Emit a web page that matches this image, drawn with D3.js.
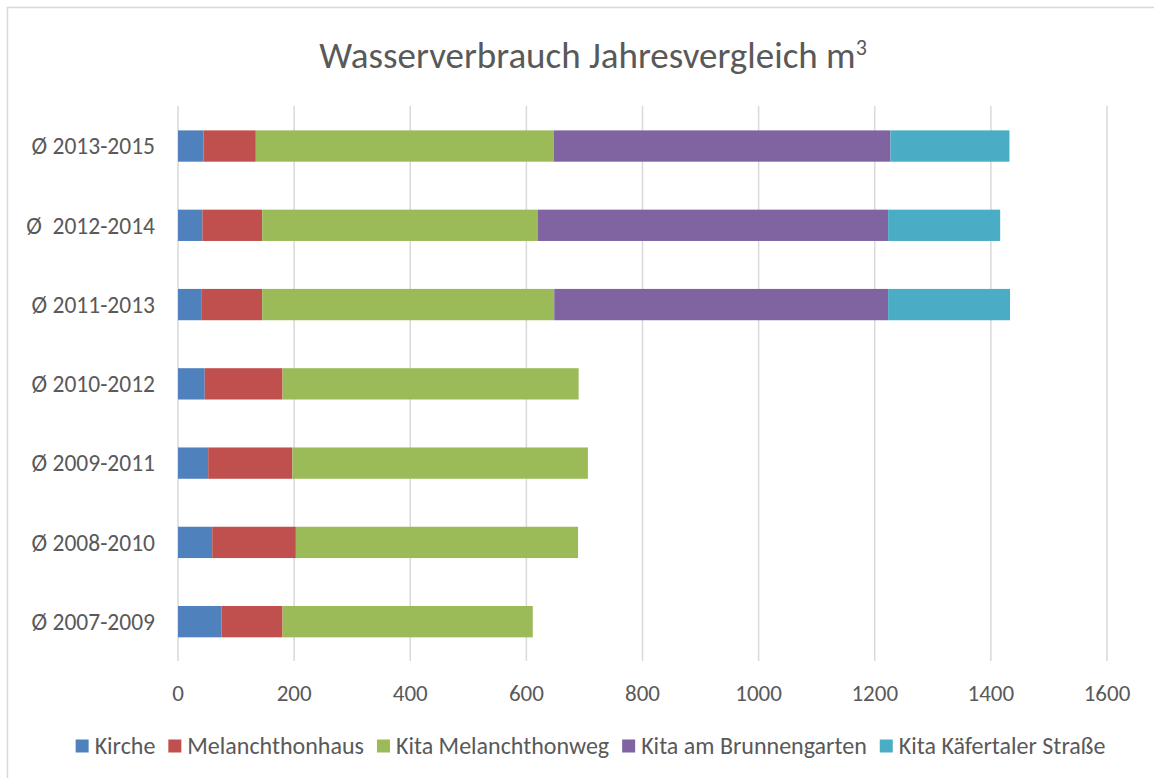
<!DOCTYPE html>
<html>
<head>
	<meta charset="utf-8">
	<title>Wasserverbrauch Jahresvergleich</title>
	<script src="https://d3js.org/d3.v7.min.js"></script>
	<style type="text/css">
		body{ margin:0; background:#fff; }
		text{ font-family: Carlito, "Liberation Sans", Arial, sans-serif; fill:#595959; white-space:pre; }
	</style>
</head>
<body>
<div id="chart"></div>
<script type="text/javascript">
// data (m3)
var categories = ["Ø 2013-2015", "Ø  2012-2014", "Ø 2011-2013", "Ø 2010-2012", "Ø 2009-2011", "Ø 2008-2010", "Ø 2007-2009"];
var kirche          = [44, 42, 40, 46, 52, 59, 75];
var melanchthonhaus = [90, 103, 105, 134, 145, 144, 105];
var kitaWeg         = [513, 475, 503, 510, 509, 486, 431];
var kitaBrunnen     = [580, 603, 575, 0, 0, 0, 0];
var kitaKaefertal   = [205, 193, 210, 0, 0, 0, 0];
var seriesNames = ["Kirche", "Melanchthonhaus", "Kita Melanchthonweg", "Kita am Brunnengarten", "Kita Käfertaler Straße"];
var colors = ["#4f81bd", "#c0504d", "#9bbb59", "#8064a2", "#4bacc6"];
var xTicks = [0, 200, 400, 600, 800, 1000, 1200, 1400, 1600];

var w = 1154, h = 778;
var svg = d3.select('#chart').append('svg')
	.attr('width', w)
	.attr('height', h);

// chart frame
svg.append('rect')
	.attr('x', 7.5).attr('y', 7.5)
	.attr('width', w + 10).attr('height', h + 10)
	.attr('fill', 'none')
	.attr('stroke', '#d9d9d9')
	.attr('stroke-width', 1.5);

// title
var title = svg.append('text')
	.attr('x', 593)
	.attr('y', 68)
	.attr('text-anchor', 'middle')
	.attr('font-size', '37px');
title.append('tspan').text('Wasserverbrauch Jahresvergleich m');
title.append('tspan').attr('dy', -13).attr('font-size', '22px').text('3');

var x = d3.scaleLinear().domain([0, 1600]).range([178, 1107]);
var y = d3.scaleBand().domain(categories).range([106.4, 661.3])
	.paddingInner(0.605).paddingOuter(0.3025);

// gridlines
svg.append('g').selectAll('line')
	.data(xTicks)
	.enter()
	.append('line')
	.attr('x1', function(d){ return x(d); })
	.attr('x2', function(d){ return x(d); })
	.attr('y1', 106)
	.attr('y2', 661)
	.attr('stroke', '#d9d9d9')
	.attr('stroke-width', 1.5);

// stacked bars
var rows = categories.map(function(c, i){
	return {cat: c, v0: kirche[i], v1: melanchthonhaus[i], v2: kitaWeg[i], v3: kitaBrunnen[i], v4: kitaKaefertal[i]};
});
var stack = d3.stack().keys(['v0', 'v1', 'v2', 'v3', 'v4']);
var layers = stack(rows);

svg.append('g').selectAll('g')
	.data(layers)
	.enter()
	.append('g')
	.attr('fill', function(d, i){ return colors[i]; })
	.selectAll('rect')
	.data(function(d){ return d.filter(function(s){ return s[1] > s[0]; }); })
	.enter()
	.append('rect')
	.attr('x', function(d){ return x(d[0]); })
	.attr('y', function(d){ return y(d.data.cat); })
	.attr('width', function(d){ return x(d[1]) - x(d[0]); })
	.attr('height', y.bandwidth());

// category labels
svg.append('g').selectAll('text')
	.data(categories)
	.enter()
	.append('text')
	.attr('x', 155)
	.attr('y', function(d){ return y(d) + y.bandwidth() / 2; })
	.attr('dy', '0.35em')
	.attr('text-anchor', 'end')
	.attr('font-size', '23.5px')
	.text(function(d){ return d; });

// value axis labels
svg.append('g').selectAll('text')
	.data(xTicks)
	.enter()
	.append('text')
	.attr('x', function(d){ return x(d); })
	.attr('y', 701)
	.attr('text-anchor', 'middle')
	.attr('font-size', '23px')
	.text(function(d){ return d; });

// legend
var legend = svg.append('g');
var items = legend.selectAll('g')
	.data(seriesNames)
	.enter()
	.append('g');
items.append('rect')
	.attr('width', 13).attr('height', 13)
	.attr('y', 739.5)
	.attr('fill', function(d, i){ return colors[i]; });
items.append('text')
	.attr('x', 19)
	.attr('y', 754)
	.attr('font-size', '24px')
	.text(function(d){ return d; });

var offs = [], pos = 0;
items.each(function(){
	var tw = this.querySelector('text').getComputedTextLength();
	offs.push(pos);
	pos += 19 + tw + 13;
});
var total = pos - 13;
var start = 590.5 - total / 2;
items.attr('transform', function(d, i){ return 'translate(' + (start + offs[i]) + ',0)'; });
</script>
</body>
</html>
